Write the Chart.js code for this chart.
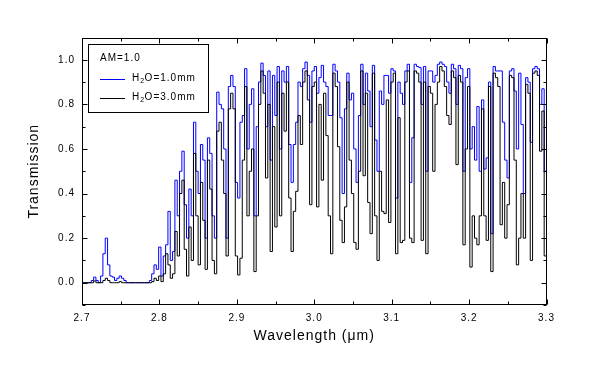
<!DOCTYPE html>
<html>
<head>
<meta charset="utf-8">
<script src="https://cdn.jsdelivr.net/npm/chart.js@4.4.1/dist/chart.umd.min.js"></script>
<style>
html,body{margin:0;padding:0;background:#fff;}
#wrap{width:590px;height:381px;position:relative;}
</style>
</head>
<body>
<div id="wrap"><canvas id="c" width="590" height="381"></canvas></div>
<script>
// Wavelength grid (µm)
const wavelengthStart = 2.700;
const wavelengthStep = 0.003;
const xTickLabels = ['2.7','2.8','2.9','3.0','3.1','3.2','3.3'];
const yTickLabels = ['0.0','0.2','0.4','0.6','0.8','1.0'];
const legendTitle = 'AM=1.0';
const seriesNames = ['H2O=1.0mm','H2O=3.0mm'];

// Transmission, H2O = 1.0 mm (blue)
const transmission1mm = [
  0,0,0,0,0.01,0.025,0.01,0,0.03,0.13,
  0.2,0.08,0.03,0.025,0.01,0.02,0.03,0.02,0.01,0,
  0,0,0,0,0,0,0,0,0,0.01,
  0.04,0.08,0.06,0.16,0.03,0.12,0.17,0.32,0.1,0.14,
  0.46,0.3,0.5,0.59,0.35,0.2,0.42,0.3,0.72,0.5,
  0.4,0.62,0.55,0.2,0.65,0.58,0.3,0.2,0.855,0.8,
  0.78,0.6,0.2,0.88,0.93,0.88,0.45,0.38,0.72,0.75,
  0.96,0.6,0.8,0.87,0.3,0.7,0.9,0.985,0.93,0.7,
  0.95,0.55,0.93,0.75,0.97,0.6,0.95,0.9,0.97,0.62,
  0.45,0.62,0.72,0.9,0.88,0.96,0.99,0.93,0.72,0.95,
  0.97,0.85,0.92,0.975,0.9,0.88,0.75,0.75,0.98,0.95,
  0.9,0.74,0.4,0.78,0.94,0.82,0.85,0.6,0.45,0.75,
  0.98,0.8,0.94,0.86,0.7,0.975,0.64,0.5,0.86,0.8,
  0.93,0.93,0.85,0.96,0.95,0.38,0.9,0.85,0.8,0.95,
  0.98,0.45,0.65,0.98,0.97,0.965,0.8,0.97,0.5,0.95,
  0.95,0.9,0.93,0.98,0.99,0.98,0.97,0.9,0.85,0.98,
  0.96,0.8,0.975,0.96,0.5,0.92,0.96,0.6,0.7,0.55,
  0.79,0.5,0.82,0.51,0.56,0.9,0.22,0.97,0.95,0.95,
  0.95,0.72,0.55,0.47,0.95,0.96,0.86,0.6,0.94,0.71,
  0.4,0.92,0.9,0.63,0.96,0.97,0.96,0.8,0.87,0.5,
  0.3
];

// Transmission, H2O = 3.0 mm (black)
const transmission3mm = [
  0,0,0,0,0,0.008,0,0,0,0.01,
  0.02,0.01,0,0,0,0,0.005,0,0,0,
  0,0,0,0,0,0,0,0,0,0,
  0.005,0.02,0.01,0.03,0.005,0.04,0.13,0.08,0.02,0.04,
  0.23,0.12,0.4,0.46,0.15,0.03,0.25,0.1,0.58,0.3,
  0.08,0.45,0.28,0.06,0.55,0.42,0.1,0.04,0.68,0.72,
  0.55,0.4,0.12,0.78,0.85,0.78,0.12,0.035,0.11,0.55,
  0.88,0.3,0.5,0.6,0.05,0.3,0.8,0.95,0.85,0.47,
  0.8,0.14,0.7,0.25,0.9,0.3,0.85,0.68,0.9,0.38,
  0.14,0.32,0.41,0.75,0.62,0.9,0.95,0.82,0.35,0.88,
  0.9,0.34,0.8,0.46,0.85,0.66,0.3,0.13,0.94,0.88,
  0.61,0.28,0.18,0.34,0.9,0.55,0.4,0.18,0.15,0.5,
  0.95,0.48,0.85,0.36,0.22,0.94,0.3,0.1,0.5,0.32,
  0.31,0.82,0.27,0.9,0.94,0.13,0.74,0.18,0.19,0.9,
  0.95,0.2,0.18,0.95,0.94,0.9,0.19,0.9,0.13,0.88,
  0.85,0.5,0.8,0.9,0.97,0.95,0.88,0.75,0.71,0.95,
  0.92,0.53,0.93,0.9,0.17,0.6,0.88,0.07,0.3,0.2,
  0.17,0.3,0.78,0.3,0.19,0.88,0.05,0.94,0.92,0.88,
  0.26,0.45,0.2,0.35,0.93,0.92,0.55,0.08,0.2,0.4,
  0.2,0.89,0.85,0.1,0.94,0.95,0.93,0.59,0.77,0.12,
  0.1
];

const toPoints = arr => arr.map((v, i) => ({ x: +(wavelengthStart + i * wavelengthStep).toFixed(4), y: v }));

const FONT = '"Liberation Sans", Arial, sans-serif';

const framePlugin = {
  id: 'frame',
  beforeDraw(chart) {
    chart.ctx.letterSpacing = '1px';
  },
  afterDatasetsDraw(chart) {
    const { ctx, chartArea: a, scales } = chart;
    const xs = scales.x, ys = scales.y;
    const L = Math.round(a.left) + 0.5, R = Math.round(a.right) - 0.5;
    const T = Math.round(a.top) + 0.5, B = Math.round(a.bottom) - 0.5;
    ctx.save();
    ctx.strokeStyle = '#000';
    ctx.lineWidth = 1;
    ctx.strokeRect(L, T, R - L, B - T);
    ctx.beginPath();
    // x ticks (major every 0.1, minor every 0.05), inward, bottom + top
    for (let k = 0; k <= 12; k++) {
      const v = 2.7 + k * 0.05;
      const px = Math.round(xs.getPixelForValue(v)) + 0.5;
      const len = (k % 2 === 0) ? 5 : 3;
      ctx.moveTo(px, B); ctx.lineTo(px, B - len);
      ctx.moveTo(px, T); ctx.lineTo(px, T + len);
    }
    // y ticks (major every 0.2, minor every 0.1), inward, left + right
    for (let k = -1; k <= 11; k++) {
      const v = k * 0.1;
      const py = Math.round(ys.getPixelForValue(v)) + 0.5;
      const len = (k % 2 === 0) ? 5 : 3;
      ctx.moveTo(L, py); ctx.lineTo(L + len, py);
      ctx.moveTo(R, py); ctx.lineTo(R - len, py);
    }
    ctx.stroke();

    // legend box
    const bx = 88.5, by = 44.5, bw = 120, bh = 68;
    ctx.fillStyle = '#fff';
    ctx.fillRect(bx, by, bw, bh);
    ctx.strokeRect(bx, by, bw, bh);
    ctx.fillStyle = '#000';
    ctx.textBaseline = 'middle';
    ctx.textAlign = 'left';
    ctx.letterSpacing = '1px';
    ctx.font = '10px ' + FONT;
    ctx.fillText(legendTitle, 100, 58.5);
    const colors = ['#0000ff', '#000000'];
    const rowsY = [79.5, 98.5];
    for (let i = 0; i < 2; i++) {
      ctx.strokeStyle = colors[i];
      ctx.beginPath();
      ctx.moveTo(100, rowsY[i]); ctx.lineTo(125, rowsY[i]);
      ctx.stroke();
      const name = seriesNames[i];
      let x = 132;
      ctx.font = '10px ' + FONT;
      ctx.fillText(name[0], x, rowsY[i] - 1);
      x += ctx.measureText(name[0]).width;
      ctx.font = '7px ' + FONT;
      ctx.letterSpacing = '0.5px';
      ctx.fillText(name[1], x, rowsY[i] + 2);
      x += ctx.measureText(name[1]).width;
      ctx.font = '10px ' + FONT;
      ctx.letterSpacing = '1px';
      ctx.fillText(name.slice(2), x, rowsY[i] - 1);
    }
    ctx.restore();
  }
};

new Chart(document.getElementById('c'), {
  type: 'line',
  data: {
    datasets: [
      { label: seriesNames[1], data: toPoints(transmission3mm), borderColor: '#000000', borderWidth: 1, pointRadius: 0, stepped: true, fill: false, order: 0 },
      { label: seriesNames[0], data: toPoints(transmission1mm), borderColor: '#0000ff', borderWidth: 1, pointRadius: 0, stepped: true, fill: false, order: 1 }
    ]
  },
  options: {
    responsive: false,
    animation: false,
    devicePixelRatio: 1,
    layout: { padding: { left: 0, right: 43.5, top: 37.5, bottom: 0 } },
    plugins: { legend: { display: false }, tooltip: { enabled: false }, title: { display: false } },
    scales: {
      x: {
        type: 'linear', min: 2.7, max: 3.3,
        grid: { display: false, drawTicks: false },
        border: { display: false },
        afterBuildTicks: s => { s.ticks = xTickLabels.map(t => ({ value: parseFloat(t) })); },
        ticks: { autoSkip: false, maxRotation: 0, padding: 7, color: '#000', font: { family: FONT, size: 10 },
          callback: (v, i) => xTickLabels[i] },
        title: { display: true, text: 'Wavelength (\u03bcm)', color: '#000', font: { family: FONT, size: 14 }, padding: { top: 0, bottom: 36 } },
        afterFit: s => { s.height = 76; }
      },
      y: {
        type: 'linear', min: -0.1, max: 1.1,
        grid: { display: false, drawTicks: false },
        border: { display: false },
        afterBuildTicks: s => { s.ticks = yTickLabels.map(t => ({ value: parseFloat(t) })); },
        ticks: { autoSkip: false, padding: 7, color: '#000', font: { family: FONT, size: 10 },
          callback: (v, i) => yTickLabels[i] },
        title: { display: true, text: 'Transmission', color: '#000', font: { family: FONT, size: 14 }, padding: { top: 26, bottom: 0 } },
        afterFit: s => { s.width = 82; }
      }
    }
  },
  plugins: [framePlugin]
});
</script>
</body>
</html>
